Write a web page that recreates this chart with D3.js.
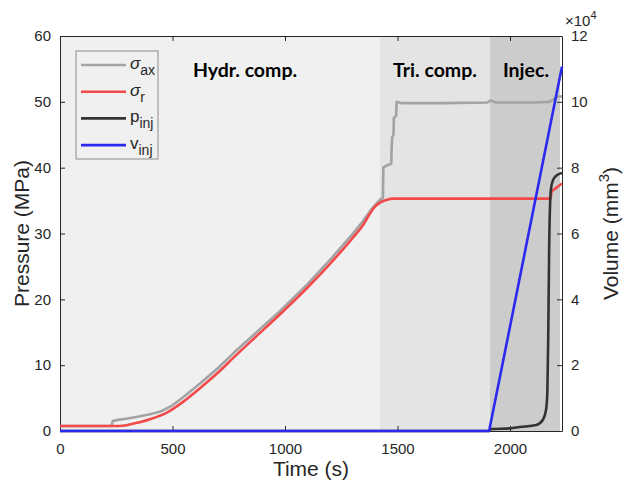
<!DOCTYPE html>
<html>
<head>
<meta charset="utf-8">
<script src="https://cdn.jsdelivr.net/npm/d3@7"></script>
<style>
  body { margin: 0; background: #fff; }
  text { font-family: "Liberation Sans", Arial, sans-serif; }
</style>
</head>
<body>
<div id="chart"></div>
<script>
// sigma_ax (grey)
const axT = [0, 228, 234, 250, 300, 350, 400, 450, 500, 550, 622, 700, 770, 870, 977, 1100, 1200, 1300, 1347, 1380, 1400, 1415, 1422, 1435, 1437, 1450, 1472, 1474, 1476, 1482, 1484, 1494, 1496, 1520, 1700, 1900, 1912, 1940, 2100, 2175, 2190, 2210, 2231];
const axP = [0.75, 0.75, 1.5, 1.65, 1.9, 2.2, 2.55, 3.0, 3.9, 5.2, 7.2, 9.5, 11.8, 14.9, 18.2, 22.3, 26.0, 29.9, 31.9, 33.5, 34.3, 34.9, 35.1, 35.4, 40.0, 40.3, 40.6, 43.0, 44.6, 45.0, 47.6, 47.9, 50.0, 49.8, 49.8, 49.9, 50.2, 49.9, 49.9, 50.0, 50.3, 50.8, 50.8];
// sigma_r (red)
const rT = [0, 265, 300, 350, 400, 475, 550, 622, 700, 770, 870, 977, 1100, 1200, 1300, 1347, 1377, 1400, 1422, 1450, 1480, 1600, 2180, 2184, 2200, 2231];
const rP = [0.75, 0.75, 0.9, 1.3, 1.8, 2.8, 4.5, 6.5, 8.8, 11.1, 14.3, 17.7, 21.8, 25.4, 29.3, 31.3, 33.0, 34.1, 34.7, 35.1, 35.3, 35.3, 35.3, 36.3, 36.8, 37.6];
// p_inj (black)
const pT = [0, 1907, 1915, 2000, 2043, 2117, 2146, 2160, 2166, 2170, 2174, 2180, 2183, 2190, 2200, 2215, 2231];
const pP = [0, 0, 0.3, 0.4, 0.6, 0.9, 1.7, 3.2, 6, 15, 28, 36, 37, 38.0, 38.6, 39.0, 39.2];
// v_inj (blue), right axis, mm^3
const vT = [0, 1907, 2231];
const vV = [0, 0, 110700];

const phaseStart = [0, 1422, 1911];
const phaseEnd = [1422, 1911, 2222];
const phaseNames = ["Hydr. comp.", "Tri. comp.", "Injec."];
const phaseFill = ["#f0f0f0", "#e4e4e4", "#cccccc"];
const phaseLabelX = [245, 435, 526];

const xTicks = [0, 500, 1000, 1500, 2000];
const yTicks = [0, 10, 20, 30, 40, 50, 60];
const y2Ticks = [0, 20000, 40000, 60000, 80000, 100000, 120000];

const W = 623, H = 488;
const pLeft = 60, pRight = 562, pTop = 36, pBottom = 431;

const svg = d3.select("#chart").append("svg")
  .attr("width", W).attr("height", H);

const x = d3.scaleLinear().domain([0, 2231]).range([pLeft, pRight]);
const y = d3.scaleLinear().domain([0, 60]).range([pBottom, pTop]);
const y2 = d3.scaleLinear().domain([0, 120000]).range([pBottom, pTop]);

// phase shading
svg.append("g").selectAll("rect")
  .data(phaseStart)
  .enter().append("rect")
    .attr("x", (d) => x(d))
    .attr("y", pTop)
    .attr("width", (d, i) => x(phaseEnd[i]) - x(d))
    .attr("height", pBottom - pTop)
    .attr("fill", (d, i) => phaseFill[i]);

svg.append("g").selectAll("text")
  .data(phaseNames)
  .enter().append("text")
    .attr("x", (d, i) => phaseLabelX[i])
    .attr("y", 77)
    .attr("text-anchor", "middle")
    .style("font-family", "Lato, 'Open Sans', sans-serif")
    .style("font-weight", "bold")
    .style("font-size", "19.5px")
    .attr("fill", "#000")
    .text(d => d);

// axes
const tickCol = "#262626";
const gx = svg.append("g")
  .attr("transform", "translate(0," + pBottom + ")")
  .call(d3.axisBottom(x).tickValues(xTicks).tickSizeInner(-5).tickSizeOuter(0).tickPadding(9)
    .tickFormat(d3.format("d")));
const gxTop = svg.append("g")
  .attr("transform", "translate(0," + pTop + ")")
  .call(d3.axisTop(x).tickValues(xTicks).tickSizeInner(-5).tickSizeOuter(0).tickFormat(""));
const gy = svg.append("g")
  .attr("transform", "translate(" + pLeft + ",0)")
  .call(d3.axisLeft(y).tickValues(yTicks).tickSizeInner(-5).tickSizeOuter(0).tickPadding(9));
const gy2 = svg.append("g")
  .attr("transform", "translate(" + pRight + ",0)")
  .call(d3.axisRight(y2).tickValues(y2Ticks).tickSizeInner(-5).tickSizeOuter(0).tickPadding(9)
    .tickFormat(d => d / 10000));

[gx, gxTop, gy, gy2].forEach(g => {
  g.select(".domain").attr("stroke", tickCol).attr("stroke-width", 1);
  g.selectAll(".tick line").attr("stroke", tickCol);
  g.selectAll(".tick text")
    .attr("fill", tickCol)
    .style("font-family", "'Liberation Sans', Arial, sans-serif")
    .style("font-size", "15px");
});
gx.selectAll(".tick text").attr("dy", "0.9em");

// lines
const line = (xs, sy, curve) => d3.line()
  .x((d, i) => x(xs[i]))
  .y(d => sy(d))
  .curve(curve);

const series = [
  { t: axT, v: axP, s: y, c: "#a3a3a3", k: d3.curveLinear },
  { t: rT, v: rP, s: y, c: "#f24a4a", k: d3.curveMonotoneX },
  { t: pT, v: pP, s: y, c: "#333333", k: d3.curveMonotoneX },
  { t: vT, v: vV, s: y2, c: "#2a2af0", k: d3.curveLinear }
];
series.forEach(se => {
  svg.append("path")
    .datum(se.v)
    .attr("fill", "none")
    .attr("stroke", se.c)
    .attr("stroke-width", 2.6)
    .attr("stroke-linejoin", "round")
    .attr("d", line(se.t, se.s, se.k));
});

// axis labels
svg.append("text")
  .attr("x", (pLeft + pRight) / 2).attr("y", 476)
  .attr("text-anchor", "middle")
  .style("font-size", "21px").attr("fill", tickCol)
  .text("Time (s)");

svg.append("text")
  .attr("transform", "translate(29," + (pTop + pBottom) / 2 + ") rotate(-90)")
  .attr("text-anchor", "middle")
  .style("font-size", "21px").attr("fill", tickCol)
  .text("Pressure (MPa)");

const vl = svg.append("text")
  .attr("transform", "translate(618," + (pTop + pBottom) / 2 + ") rotate(-90)")
  .attr("text-anchor", "middle")
  .style("font-size", "21px").attr("fill", tickCol);
vl.append("tspan").text("Volume (mm");
vl.append("tspan").attr("dy", -9).style("font-size", "15px").text("3");
vl.append("tspan").attr("dy", 9).text(")");

const ex = svg.append("text")
  .attr("x", 565).attr("y", 26)
  .style("font-size", "15px").attr("fill", tickCol);
ex.append("tspan").text("\u00d710");
ex.append("tspan").attr("dy", -7).style("font-size", "11px").text("4");

// legend
const legNames = [["\u03c3", "ax"], ["\u03c3", "r"], ["p", "inj"], ["v", "inj"]];
const leg = svg.append("g");
leg.append("rect")
  .attr("x", 76).attr("y", 51).attr("width", 82).attr("height", 108)
  .attr("fill", "#f0f0f0").attr("stroke", "#8c8c8c").attr("stroke-width", 1);
legNames.forEach((n, i) => {
  const yy = 65 + i * 26.7;
  leg.append("line")
    .attr("x1", 81).attr("x2", 126).attr("y1", yy).attr("y2", yy)
    .attr("stroke", series[i].c).attr("stroke-width", 2.6);
  const t = leg.append("text")
    .attr("x", 130).attr("y", yy + 4)
    .style("font-size", "17px").attr("fill", tickCol);
  t.append("tspan").style("font-style", i < 2 ? "italic" : "normal").text(n[0]);
  t.append("tspan").attr("dy", 6).style("font-size", "14px").text(n[1]);
});
</script>
</body>
</html>
